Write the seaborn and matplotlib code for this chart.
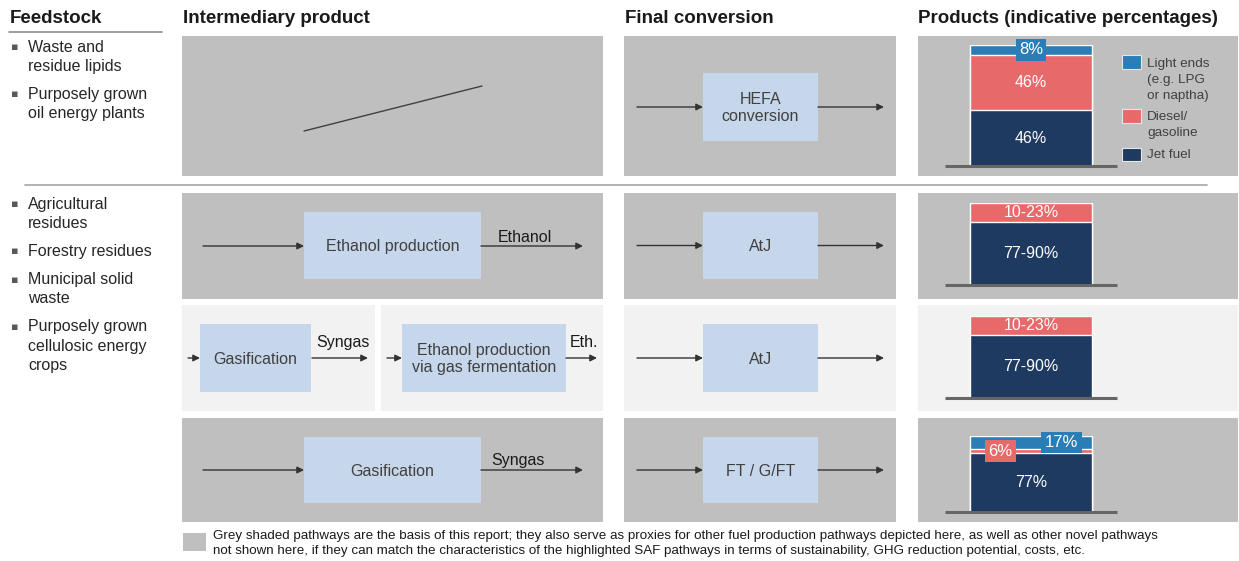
import matplotlib
matplotlib.use("Agg")
import matplotlib.pyplot as plt
from matplotlib.patches import Rectangle
import pandas as pd
import seaborn as sns

# Product split per pathway (share of output, %)
pathways = ["HEFA", "AtJ (ethanol)", "AtJ (gas fermentation)", "FT / G/FT"]
jet_fuel = [46, 77, 77, 77]
diesel_gasoline = [46, 23, 23, 6]
light_ends = [8, 0, 0, 17]
jet_labels = ["46%", "77-90%", "77-90%", "77%"]
diesel_labels = ["46%", "10-23%", "10-23%", "6%"]
light_labels = ["8%", "", "", "17%"]

product_names = ["Light ends\n(e.g. LPG\nor naptha)", "Diesel/\ngasoline", "Jet fuel"]

headers = ["Feedstock", "Intermediary product", "Final conversion",
           "Products (indicative percentages)"]
feedstock_lipids = ["Waste and\nresidue lipids", "Purposely grown\noil energy plants"]
feedstock_cellulosic = ["Agricultural\nresidues", "Forestry residues",
                        "Municipal solid\nwaste",
                        "Purposely grown\ncellulosic energy\ncrops"]
conversions = ["HEFA\nconversion", "AtJ", "AtJ", "FT / G/FT"]
footnote = ("Grey shaded pathways are the basis of this report; they also serve as proxies "
            "for other fuel production pathways depicted here, as well as other novel pathways\n"
            "not shown here, if they can match the characteristics of the highlighted SAF "
            "pathways in terms of sustainability, GHG reduction potential, costs, etc.")

# Colours
C_PANEL = "#bfbfbf"
C_PALE = "#f2f2f2"
C_BOX = "#c6d6eb"
C_JET = "#1f3a60"
C_DIESEL = "#e8696a"
C_LIGHT = "#2a7db5"
C_TEXT = "#404040"
C_DARK = "#1a1a1a"

sns.set_theme(style="white")
plt.rcParams["font.family"] = ["Liberation Sans", "DejaVu Sans"]

W, H = 1239, 561
fig = plt.figure(figsize=(W / 100, H / 100), dpi=100)
fig.patch.set_facecolor("white")
ax = fig.add_axes([0, 0, 1, 1])
ax.set_xlim(0, W)
ax.set_ylim(H, 0)
ax.axis("off")

FS = 11.5


def panel(x0, x1, y0, y1, color):
    ax.add_patch(Rectangle((x0, y0), x1 - x0, y1 - y0, fc=color, ec="none", zorder=0))


def box(x0, x1, y0, y1, label):
    ax.add_patch(Rectangle((x0, y0), x1 - x0, y1 - y0, fc=C_BOX, ec="none", zorder=1))
    ax.text((x0 + x1) / 2, (y0 + y1) / 2 + 1, label, ha="center", va="center",
            fontsize=FS, color=C_TEXT, linespacing=1.2, zorder=2)


def arrow(x0, x1, y):
    ax.annotate("", xy=(x1, y), xytext=(x0, y), zorder=2,
                arrowprops=dict(arrowstyle="-|>", color="#333333", lw=1.0,
                                mutation_scale=10, shrinkA=0, shrinkB=0))


# Column headers
for x, h in zip([10, 183, 625, 918], headers):
    ax.text(x, 18, h, ha="left", va="center", fontsize=13.5, fontweight="bold",
            color=C_DARK)
ax.plot([9, 162], [32, 32], color="#8c8c8c", lw=1.2)
ax.plot([25, 1207], [185, 185], color="#a6a6a6", lw=1.2)

# Feedstock bullet lists
def bullets(items, y):
    for item in items:
        for j, line in enumerate(item.split("\n")):
            if j == 0:
                ax.text(11, y, "\u25aa", ha="left", va="center", fontsize=8,
                        color="#595959", family=["DejaVu Sans"])
            ax.text(28, y, line, ha="left", va="center", fontsize=FS, color="#262626")
            y += 19.2
        y += 9


bullets(feedstock_lipids, 47)
bullets(feedstock_cellulosic, 204)

# Pathway panels
rows = [(36, 176, C_PANEL), (193, 299, C_PANEL), (305, 411, C_PALE), (418, 522, C_PANEL)]
for i, (y0, y1, col) in enumerate(rows):
    if i == 2:
        panel(182, 375, y0, y1, col)
        panel(381, 603, y0, y1, col)
    else:
        panel(182, 603, y0, y1, col)
    panel(624, 896, y0, y1, col)
    panel(918, 1238, y0, y1, col)

# Row 1: lipids straight to HEFA
ax.plot([304, 482], [131, 86], color="#404040", lw=1.0, zorder=2)
conv_y = [(73, 141), (212, 279), (324, 392), (437, 503)]
for (y0, y1), label in zip(conv_y, conversions):
    yc = (y0 + y1) / 2
    arrow(637, 703, yc)
    box(703, 818, y0, y1, label)
    arrow(818, 884, yc)

# Row 2: ethanol production
arrow(203, 304, 246)
box(304, 481, 212, 279, "Ethanol production")
arrow(481, 583, 246)
ax.text(498, 237, "Ethanol", ha="left", va="center", fontsize=FS, color=C_DARK)

# Row 3: gasification + gas fermentation
arrow(188, 200, 358)
box(200, 311, 324, 392, "Gasification")
arrow(312, 368, 358)
ax.text(316, 342, "Syngas", ha="left", va="center", fontsize=FS, color=C_DARK)
arrow(387, 402, 358)
box(402, 566, 324, 392, "Ethanol production\nvia gas fermentation")
arrow(566, 597, 358)
ax.text(570, 342, "Eth.", ha="left", va="center", fontsize=FS, color=C_DARK)

# Row 4: gasification to syngas
arrow(203, 304, 470)
box(304, 481, 437, 503, "Gasification")
arrow(481, 583, 470)
ax.text(491, 460, "Syngas", ha="left", va="center", fontsize=FS, color=C_DARK)

# Product split bars
bar_px = [(45, 166), (203, 285), (316, 398), (436, 512)]
AX_L, AX_R, BAR_L, BAR_R = 945, 1117, 970, 1092
bar_w = BAR_R - BAR_L
bar_c = (BAR_L + BAR_R) / 2
xlo, xhi = (AX_L - bar_c) / bar_w, (AX_R - bar_c) / bar_w

for i, (top, bot) in enumerate(bar_px):
    bax = fig.add_axes([AX_L / W, 1 - bot / H, (AX_R - AX_L) / W, (bot - top) / H])
    jet, dsl, lgt = jet_fuel[i], diesel_gasoline[i], light_ends[i]
    stack = pd.DataFrame({
        "pathway": [pathways[i]] * 3,
        "segment": ["Light ends", "Diesel/gasoline", "Jet fuel"],
        "cum": [jet + dsl + lgt, jet + dsl, jet],
        "value": [lgt, dsl, jet],
    })
    palette = {"Light ends": C_LIGHT, "Diesel/gasoline": C_DIESEL, "Jet fuel": C_JET}
    for _, r in stack.iterrows():
        if r["value"] > 0:
            sns.barplot(x=[r["pathway"]], y=[r["cum"]], color=palette[r["segment"]],
                        saturation=1, width=1, edgecolor="white", linewidth=1, ax=bax)
    bax.set_xlim(xlo, xhi)
    bax.set_ylim(0, 100)
    bax.axis("off")
    bax.plot([xlo, xhi], [0, 0], color="#666666", lw=2.2, clip_on=False,
             solid_capstyle="butt", zorder=5)

    # value labels
    bax.text(0, jet / 2, jet_labels[i], ha="center", va="center", fontsize=FS,
             color="white")
    small = [(dsl, diesel_labels[i], C_DIESEL, jet + dsl / 2),
             (lgt, light_labels[i], C_LIGHT, jet + dsl + lgt / 2)]
    boxed = [s for s in small if 0 < s[0] < 20]
    shift = 0.25 if len(boxed) == 2 else 0.0
    k = 0
    for val, lab, col, yc in small:
        if val <= 0:
            continue
        if val >= 20:
            bax.text(0, yc, lab, ha="center", va="center", fontsize=FS, color="white")
        else:
            xo = (-shift if k == 0 else shift) if shift else 0
            k += 1
            bax.text(xo, yc, lab, ha="center", va="center", fontsize=FS + 0.5,
                     color="white", zorder=6, clip_on=False,
                     bbox=dict(boxstyle="square,pad=0.2", fc=col, ec="none"))

# Legend for product types
leg_sq = [(55, 69), (109, 123), (148, 161)]
leg_txt = [80, 125, 155]
for (y0, y1), yt, name, col in zip(leg_sq, leg_txt, product_names,
                                   [C_LIGHT, C_DIESEL, C_JET]):
    ax.add_patch(Rectangle((1122, y0), 19, y1 - y0, fc=col, ec="#e6e6e6", lw=0.8, zorder=2))
    ax.text(1147, yt, name, ha="left", va="center", fontsize=9.7, color=C_TEXT,
            linespacing=1.45, zorder=2)

# Footnote
ax.add_patch(Rectangle((183, 533), 23, 18, fc=C_PANEL, ec="none"))
ax.text(213, 543.5, footnote, ha="left", va="center", fontsize=9.6, color=C_DARK,
        linespacing=1.32)

fig.savefig("out.png", dpi=100, facecolor="white")
